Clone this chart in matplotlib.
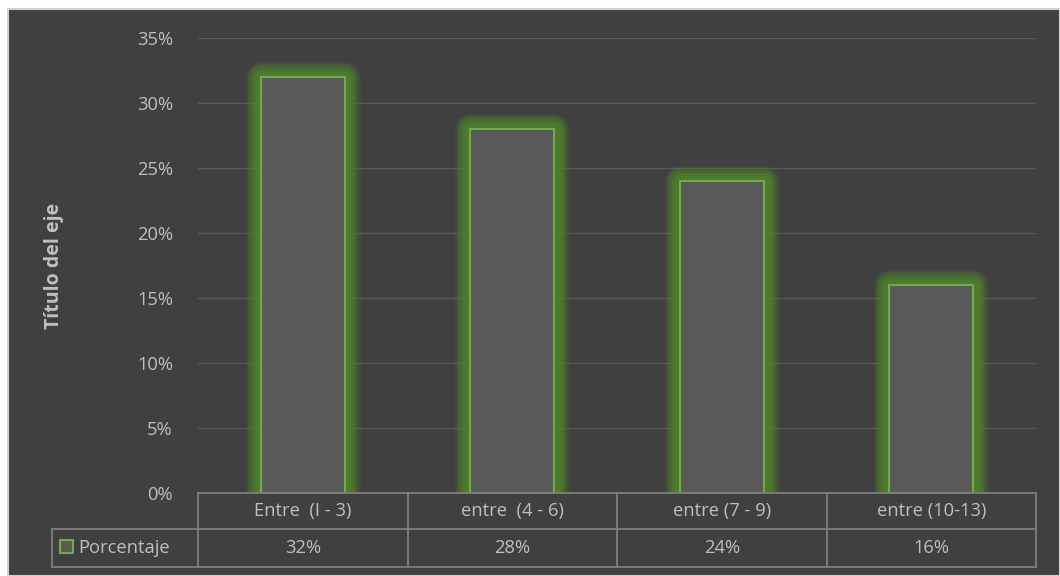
import matplotlib
matplotlib.use("Agg")
import matplotlib.pyplot as plt
import matplotlib.patheffects as pe
from matplotlib.patches import Rectangle
from matplotlib.lines import Line2D

categories = ["Entre  (I - 3)", "entre  (4 - 6)", "entre (7 - 9)", "entre (10-13)"]
values = [0.32, 0.28, 0.24, 0.16]
value_labels = ["32%", "28%", "24%", "16%"]
yticks = [0, 0.05, 0.10, 0.15, 0.20, 0.25, 0.30, 0.35]
series_name = "Porcentaje"

W, H = 1060, 576
bg = "#404040"
txt = "#BFBFBF"
grid = "#595959"
tline = "#7F7F7F"
green = "#70AD47"
glow = "#4F7F2C"
fs = 13.2

plt.rcParams["font.family"] = ["Open Sans", "DejaVu Sans"]

fig = plt.figure(figsize=(W / 100, H / 100), dpi=100, facecolor="white")

def fx(px):
    return px / W

def fy(py):
    return 1 - py / H

# dark chart area with a thin light frame
fig.patches.append(Rectangle((fx(8), 0), 1 - fx(8), fy(9), transform=fig.transFigure,
                             facecolor=bg, edgecolor="#D0D0D0", lw=1.5, zorder=-5))

left, right, top, bottom = 198, 1036, 38, 493
ax = fig.add_axes([fx(left), fy(bottom), fx(right - left), (bottom - top) / H])
ax.set_zorder(2)
ax.patch.set_alpha(0)

x = list(range(len(categories)))
bars = ax.bar(x, values, width=0.4, color="#595959", edgecolor=green, linewidth=1.5, zorder=3)
# soft green glow around each bar
effects = [pe.Stroke(linewidth=w, foreground=glow, alpha=a, joinstyle="round")
           for w, a in [(22, 0.18), (19, 0.28), (16, 0.4), (12, 0.55), (8, 0.6)]]
for b in bars:
    b.set_path_effects(effects + [pe.Normal()])

ax.set_xlim(-0.5, len(categories) - 0.5)
ax.set_ylim(0, 0.35)
ax.set_yticks(yticks)
ax.set_yticklabels([f"{int(round(t * 100))}%" for t in yticks], color=txt, fontsize=fs)
ax.set_xticks([])
ax.tick_params(axis="y", length=0, pad=18)
ax.yaxis.grid(True, color=grid, lw=1)
ax.set_axisbelow(True)
for s in ax.spines.values():
    s.set_visible(False)

ax.set_ylabel("Título del eje", color=txt, fontsize=14, fontweight="bold")
ax.yaxis.set_label_coords((64 - left) / (right - left), 0.5)

# data table below the plot
row1, row2, row3 = 493, 529, 567
col_w = (right - left) / len(categories)
lines = [
    (left, right, row1, row1),
    (52, right, row2, row2),
    (52, right, row3, row3),
    (52, 52, row2, row3),
]
for k in range(len(categories) + 1):
    xc = left + k * col_w
    lines.append((xc, xc, row1, row3))
for x0, x1, y0, y1 in lines:
    fig.add_artist(Line2D([fx(x0), fx(x1)], [fy(y0), fy(y1)], transform=fig.transFigure,
                          color=tline, lw=1.3, zorder=3))

for k, (c, v) in enumerate(zip(categories, value_labels)):
    xc = left + (k + 0.5) * col_w
    fig.text(fx(xc), fy((row1 + row2) / 2), c, color=txt, fontsize=fs, ha="center", va="center")
    fig.text(fx(xc), fy((row2 + row3) / 2), v, color=txt, fontsize=fs, ha="center", va="center")

fig.patches.append(Rectangle((fx(60), fy(553)), fx(13), 13 / H, transform=fig.transFigure,
                             facecolor="#595959", edgecolor=green, lw=1.5, zorder=3))
fig.text(fx(78), fy((row2 + row3) / 2), series_name, color=txt, fontsize=fs, ha="left", va="center")

fig.savefig("out.png", dpi=100, facecolor="white")
